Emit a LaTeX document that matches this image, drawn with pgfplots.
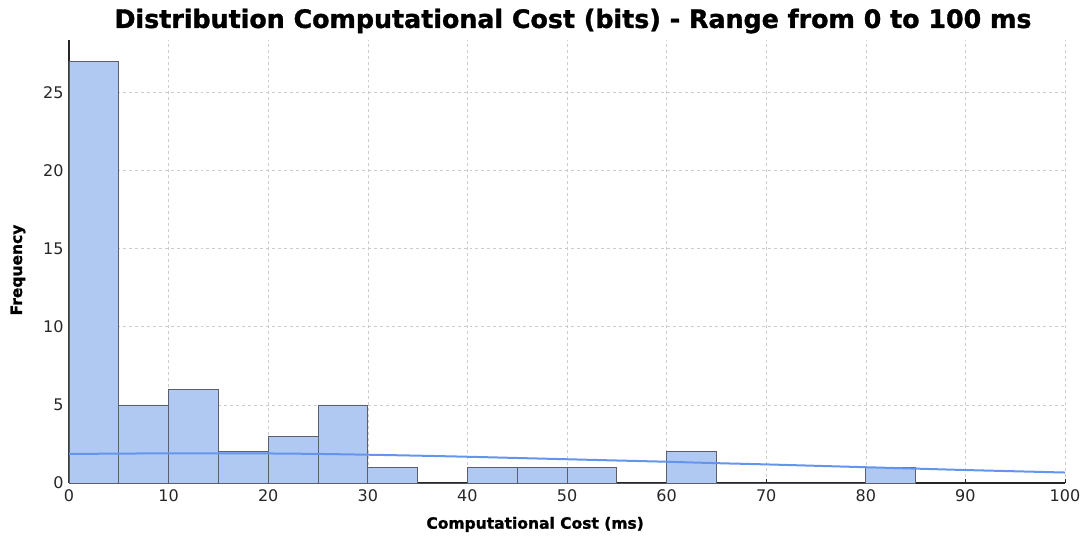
\documentclass[border=0pt]{standalone}
\usepackage{fontspec}
\setmainfont{DejaVu Sans}
\newfontfamily\heavy[FakeBold=1.3]{DejaVu Sans Bold}
\usepackage{pgfplots}
\pgfplotsset{compat=1.18}
\definecolor{barfill}{HTML}{B0C9F3}
\definecolor{baredge}{HTML}{5A5F6A}
\definecolor{kde}{HTML}{6495ED}
\definecolor{gridc}{HTML}{CCCCCC}
\definecolor{tickc}{HTML}{262626}
\begin{document}
\begin{tikzpicture}
\begin{axis}[
  at={(0,0)}, anchor=origin,
  scale only axis,
  width=996bp, height=443bp,
  xmin=0, xmax=100, ymin=0, ymax=28.35,
  axis x line=bottom, axis y line=left,
  axis line style={-, line width=1.1bp, color=black!85},
  xtick={0,10,...,100}, ytick={0,5,...,25},
  tick align=inside,
  major tick length=4bp,
  tick style={line width=1bp, color=black!85},
  ymajorgrids, xmajorgrids,
  major grid style={dashed, gridc, line width=0.6bp},
  ticklabel style={font=\fontsize{16bp}{19bp}\selectfont, text=tickc},
  xticklabel style={yshift=-3bp},
  yticklabel style={xshift=-2bp},
  /pgf/number format/assume math mode=true,
  xlabel={Computational Cost (ms)},
  ylabel={Frequency},
  xlabel style={font=\heavy\fontsize{15.5bp}{18bp}\selectfont, at={(axis cs:46.8,-2.65)}, anchor=center},
  ylabel style={font=\heavy\fontsize{15.5bp}{18bp}\selectfont, at={(axis cs:-5.12,13.63)}, anchor=center},
  title={Distribution Computational Cost (bits) - Range from 0 to 100 ms},
  title style={font=\heavy\fontsize{25.3bp}{29bp}\selectfont, at={(axis cs:50.6,29.18)}, anchor=center},
  clip=false,
]
\addplot[ybar interval, fill=barfill, draw=baredge, line width=0.7bp] coordinates {
(0,27) (5,5) (10,6) (15,2) (20,3) (25,5) (30,1) (35,0) (40,1) (45,1) (50,1) (55,0) (60,2) (65,0) (70,0) (75,0) (80,1) (85,1)
};
\addplot[kde, line width=2bp, smooth] coordinates {
(0,1.86) (5,1.88) (10,1.9) (15,1.9) (20,1.89) (25,1.86) (30,1.81) (35,1.75) (40,1.68) (45,1.6) (50,1.52) (55,1.44) (60,1.36) (65,1.27) (70,1.19) (75,1.1) (80,1.01) (85,0.92) (90,0.83) (95,0.75) (100,0.67)
};
\end{axis}
\pgfresetboundingbox
\path[use as bounding box] (-69bp,-55bp) rectangle (1022bp,483bp);
\end{tikzpicture}
\end{document}
